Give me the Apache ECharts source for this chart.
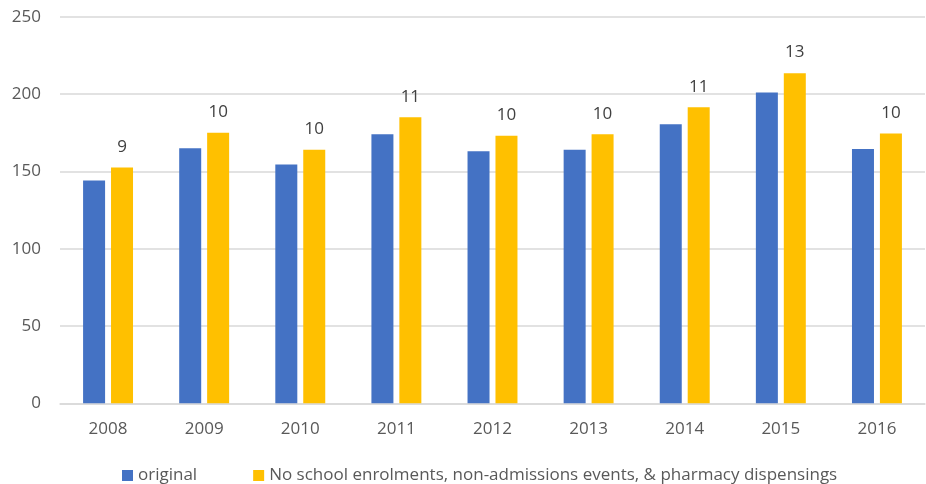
<!DOCTYPE html>
<html>
<head>
<meta charset="utf-8">
<script src="https://cdn.jsdelivr.net/npm/echarts@6/dist/echarts.min.js"></script>
<style>html,body{margin:0;padding:0;background:#fff}#c{width:926px;height:484px}</style>
</head>
<body>
<div id="c"></div>
<script>
const categories = ['2008','2009','2010','2011','2012','2013','2014','2015','2016'];
const original = [144, 165, 154.5, 174, 163, 164, 180.5, 201, 164.5];
const filtered = [152.5, 175, 164, 185, 173, 174, 191.5, 213.5, 174.5];
const diffLabels = [9, 10, 10, 11, 10, 10, 11, 13, 10];
const yTicks = {min: 0, max: 250, interval: 50};
const seriesNames = ['original', 'No school enrolments, non-admissions events, & pharmacy dispensings'];

const font = '"Open Sans", "Noto Sans", sans-serif';
const chart = echarts.init(document.getElementById('c'), null, {renderer: 'canvas'});
chart.setOption({
  animation: false,
  textStyle: {fontFamily: font},
  grid: {left: 60, right: 1, top: 16.7, bottom: 80.7, containLabel: false},
  legend: {
    data: seriesNames,
    left: 117,
    top: 462,
    itemWidth: 11,
    itemHeight: 11,
    itemGap: 56,
    icon: 'rect',
    textStyle: {color: '#595959', fontSize: 17, fontFamily: font},
  },
  xAxis: {
    type: 'category',
    data: categories,
    axisLine: {show: true, lineStyle: {color: '#d9d9d9', width: 1.5}},
    axisTick: {show: false},
    axisLabel: {color: '#595959', fontSize: 17, margin: 17, fontFamily: font}
  },
  yAxis: {
    type: 'value',
    min: yTicks.min, max: yTicks.max, interval: yTicks.interval,
    axisLine: {show: false},
    axisTick: {show: false},
    splitLine: {lineStyle: {color: '#d9d9d9', width: 1.5}},
    axisLabel: {color: '#595959', fontSize: 17, margin: 19, fontFamily: font}
  },
  series: [
    {
      name: seriesNames[0], type: 'bar', data: original,
      barWidth: 22, barGap: '27%',
      itemStyle: {color: '#4472C4'}
    },
    {
      name: seriesNames[1], type: 'bar', data: filtered,
      barWidth: 22, barGap: '27%',
      itemStyle: {color: '#FFC000'},
      label: {
        show: true, position: 'top', distance: 12,
        color: '#404040', fontSize: 17, fontFamily: font,
        formatter: p => String(diffLabels[p.dataIndex])
      }
    }
  ]
});
</script>
</body>
</html>
